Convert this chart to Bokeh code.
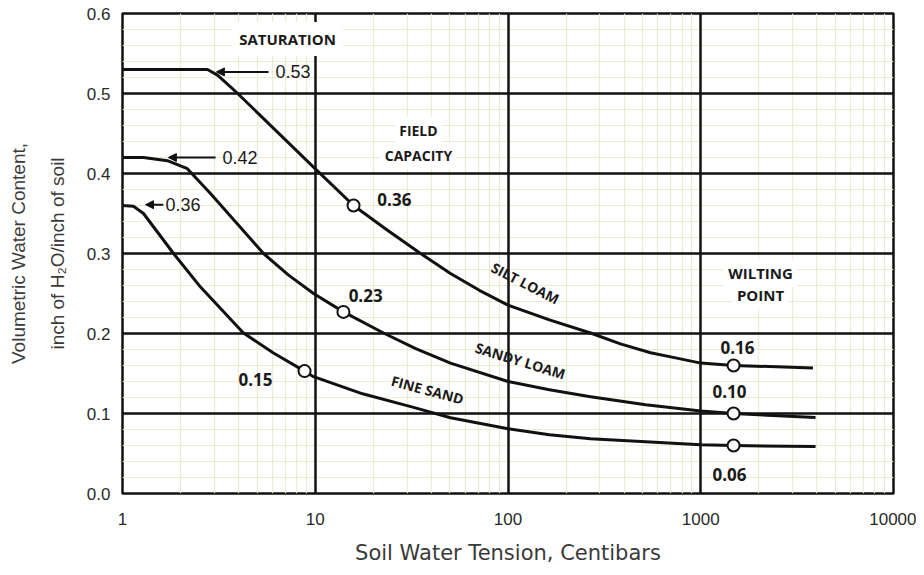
from bokeh.plotting import figure
from bokeh.models import (FixedTicker, PrintfTickFormatter, Label, Arrow, NormalHead, Grid, Title)
from bokeh.embed import file_html
from bokeh.resources import INLINE

# ---------------- data ----------------
silt_x = [1, 2.76, 3.11, 3.46, 3.96, 10.2, 15.8, 23.4, 35.2, 50.3, 71, 100, 164, 268, 383, 549, 740, 1000, 1480, 3820]
silt_y = [0.53, 0.53, 0.523, 0.513, 0.50, 0.404, 0.36, 0.330, 0.30, 0.275, 0.254, 0.2355, 0.217, 0.2006, 0.187, 0.176, 0.1695, 0.163, 0.16, 0.157]

sandy_x = [1, 1.285, 1.71, 2.17, 2.86, 5.39, 7.27, 9.8, 14.0, 22.6, 33.2, 50.3, 100, 164, 268, 518, 1000, 1480, 3940]
sandy_y = [0.42, 0.42, 0.416, 0.406, 0.375, 0.30, 0.273, 0.25, 0.227, 0.2006, 0.181, 0.163, 0.14, 0.1296, 0.121, 0.111, 0.103, 0.10, 0.095]

fine_x = [1, 1.14, 1.285, 1.84, 2.54, 4.24, 6.07, 8.8, 9.8, 17.6, 32.0, 50.3, 100, 164, 268, 518, 1000, 1480, 3940]
fine_y = [0.36, 0.359, 0.35, 0.30, 0.258, 0.2006, 0.1757, 0.153, 0.146, 0.1246, 0.108, 0.0947, 0.081, 0.0735, 0.0685, 0.0648, 0.061, 0.06, 0.0586]

fc_x = [15.8, 14.0, 8.8]          # field capacity points
fc_y = [0.36, 0.227, 0.153]
wp_x = [1480, 1480, 1480]         # wilting points
wp_y = [0.16, 0.10, 0.06]

x_ticks = [1, 10, 100, 1000, 10000]
x_minor = [m * d for d in [1, 10, 100, 1000] for m in range(2, 10)]
y_ticks = [0.0, 0.1, 0.2, 0.3, 0.4, 0.5, 0.6]
y_minor = [round(i * 0.02, 2) for i in range(31) if i % 5 != 0]

x_title = "Soil Water Tension, Centibars"
y_title_1 = "Volumetric Water Content,"
y_title_2 = "inch of H\u2082O/inch of soil"

# ---------------- figure ----------------
p = figure(width=916, height=567, x_axis_type="log", x_range=(1, 10000), y_range=(0, 0.6),
           output_backend="svg", toolbar_location=None,
           min_border_left=122, min_border_right=23, min_border_top=13, min_border_bottom=0)

p.background_fill_color = "white"
p.border_fill_color = "white"
p.outline_line_color = "#111111"
p.outline_line_width = 2.5

xt = FixedTicker(ticks=x_ticks, minor_ticks=x_minor)
yt = FixedTicker(ticks=y_ticks, minor_ticks=y_minor)
p.xaxis.ticker = xt
p.yaxis.ticker = yt
p.xaxis.formatter = PrintfTickFormatter(format="%d")
p.yaxis.formatter = PrintfTickFormatter(format="%.1f")

for ax in (p.xaxis, p.yaxis):
    ax.axis_line_color = None
    ax.major_tick_line_color = None
    ax.minor_tick_line_color = None
    ax.major_label_text_font = "Liberation Sans"
    ax.major_label_text_font_size = "17px"
    ax.major_label_text_color = "#2a2a2a"
    ax.axis_label_text_font_style = "normal"
    ax.axis_label_text_color = "#3a3a3a"

p.xaxis.major_label_standoff = 13
p.xaxis.axis_label = x_title
p.xaxis.axis_label_text_font = "DejaVu Sans"
p.xaxis.axis_label_text_font_size = "21px"
p.xaxis.axis_label_standoff = 13

p.yaxis.major_label_standoff = 6

# y titles as side titles (inner line first, outer line second)
p.add_layout(Title(text=y_title_2, align="center", text_font="Liberation Sans",
                   text_font_size="19px", text_font_style="normal", text_color="#3a3a3a",
                   standoff=32, offset=-12), "left")
p.add_layout(Title(text=y_title_1, align="center", text_font="Liberation Sans",
                   text_font_size="19px", text_font_style="normal", text_color="#3a3a3a",
                   standoff=0, offset=-12), "left")

# minor grid first (light), then major grid on top
for g in (p.xgrid, p.ygrid):
    g.grid_line_color = None
    g.minor_grid_line_color = "#e9ecd2"
    g.minor_grid_line_width = 1.2

p.add_layout(Grid(dimension=0, ticker=xt, grid_line_color="#111111", grid_line_width=2.5))
p.add_layout(Grid(dimension=1, ticker=yt, grid_line_color="#111111", grid_line_width=2.5))

# ---------------- curves ----------------
for xs, ys in ((silt_x, silt_y), (sandy_x, sandy_y), (fine_x, fine_y)):
    p.line(xs, ys, line_color="#111111", line_width=3, line_join="round")

p.scatter(fc_x, fc_y, marker="circle", size=12, fill_color="white", line_color="#111111", line_width=2)
p.scatter(wp_x, wp_y, marker="circle", size=12, fill_color="white", line_color="#111111", line_width=2)

# ---------------- annotations ----------------
def lab(x, y, text, size="17px", bold=True, align="left", angle=0, pad=0, font="Open Sans"):
    kw = dict(x=x, y=y, text=text, text_font=font, text_font_size=size,
              text_font_style="bold" if bold else "normal", text_align=align,
              text_baseline="middle", text_color="#1a1a1a", angle=angle, angle_units="deg")
    if pad:
        kw.update(background_fill_color="white", padding=pad)
    p.add_layout(Label(**kw))

lab(7.18, 0.568, "SATURATION", size="15px", align="center", pad=7)
lab(34.3, 0.4536, "FIELD", size="14px", align="center", pad=4)
lab(34.3, 0.4224, "CAPACITY", size="14px", align="center", pad=4)
lab(2042, 0.248, "POINT", size="15px", align="center", pad=4)
lab(2042, 0.2754, "WILTING", size="15px", align="center", pad=4)

lab(6.22, 0.527, "0.53", size="18px", bold=False, font="Liberation Sans")
lab(3.30, 0.420, "0.42", size="18px", bold=False, font="Liberation Sans")
lab(1.67, 0.361, "0.36", size="18px", bold=False, font="Liberation Sans")

lab(21.0, 0.3676, "0.36")
lab(14.9, 0.248, "0.23")
lab(4.0, 0.142, "0.15")
lab(1266, 0.183, "0.16")
lab(1151, 0.128, "0.10")
lab(1151, 0.0237, "0.06")

lab(123, 0.263, "SILT LOAM", size="14px", align="center", angle=-27)
lab(116, 0.166, "SANDY LOAM", size="14px", align="center", angle=-17)
lab(38.2, 0.1296, "FINE SAND", size="14px", align="center", angle=-15)

for xs, xe, y in ((5.72, 3.07, 0.527), (3.04, 1.73, 0.420), (1.63, 1.316, 0.361)):
    p.add_layout(Arrow(end=NormalHead(size=8, fill_color="#111111", line_color="#111111"),
                       x_start=xs, y_start=y, x_end=xe, y_end=y,
                       line_color="#111111", line_width=2))

open("out.html", "w").write(file_html(p, INLINE))
